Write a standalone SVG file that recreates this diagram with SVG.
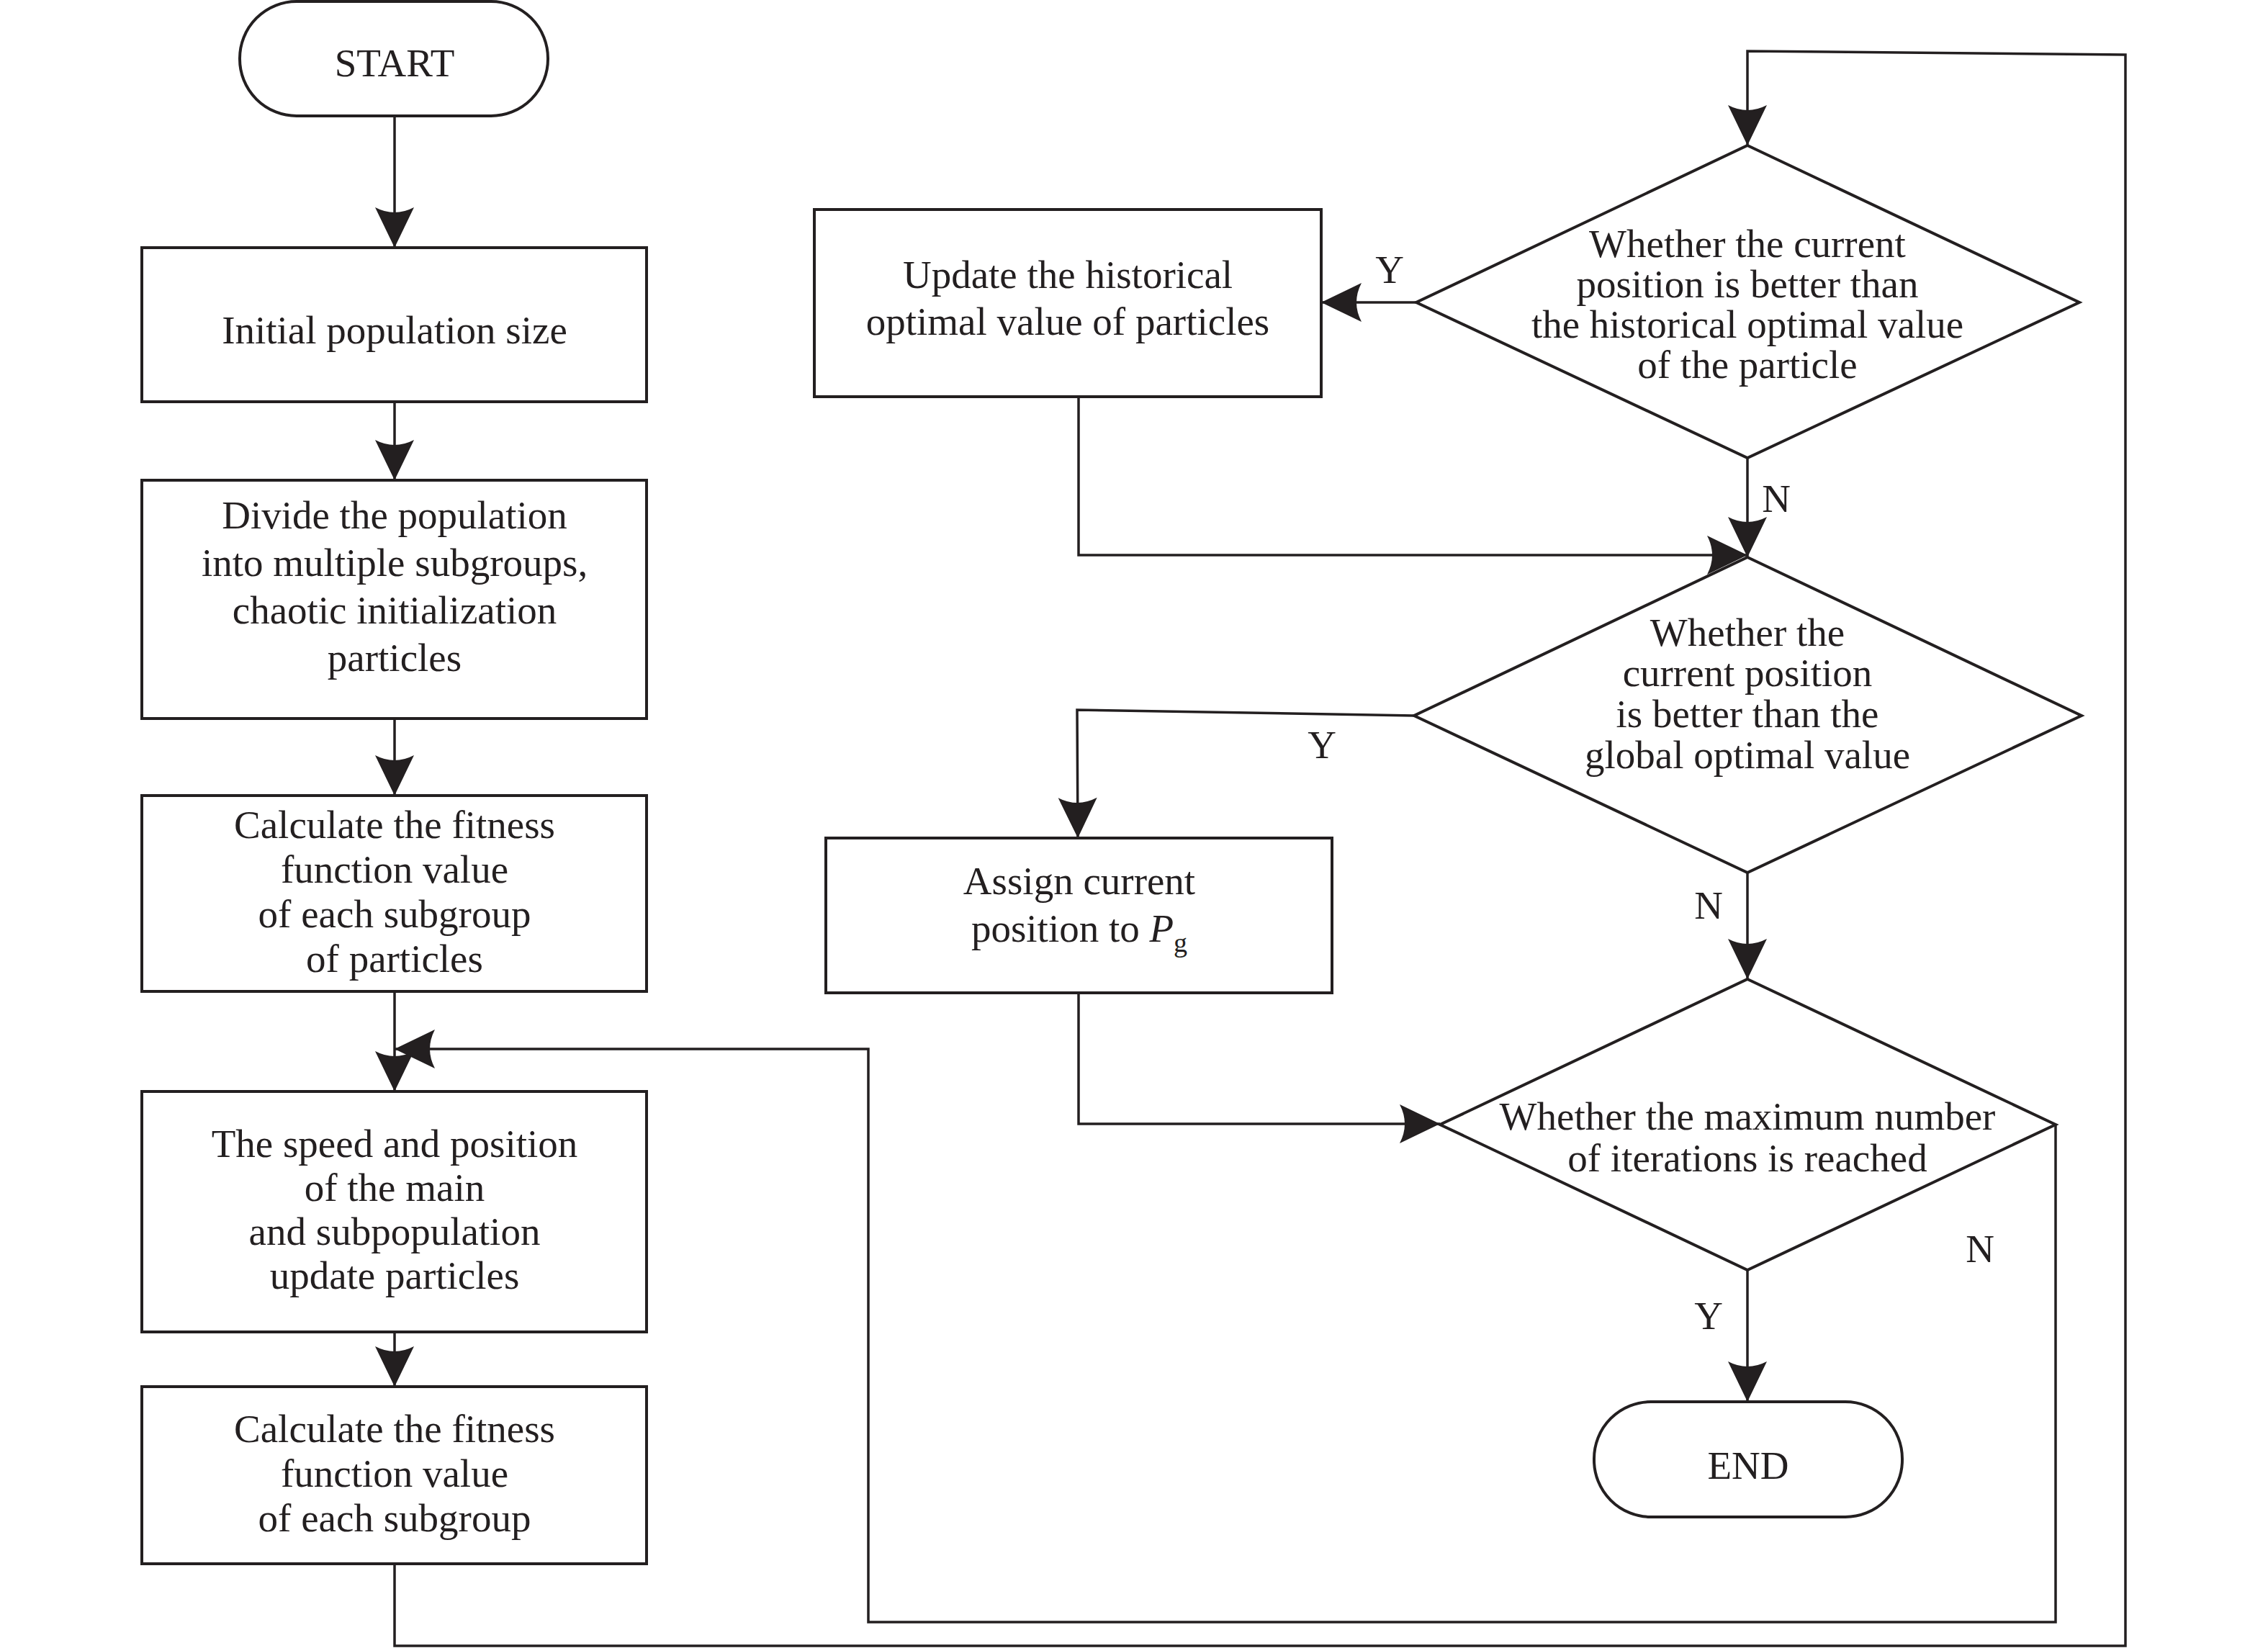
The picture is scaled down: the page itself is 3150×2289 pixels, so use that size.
<svg xmlns="http://www.w3.org/2000/svg" width="3150" height="2289" viewBox="0 0 3150 2289">
<style>
.s{fill:#fff;stroke:#231f20;stroke-width:4}
.c{fill:none;stroke:#231f20;stroke-width:3.5}
text{font-family:"Liberation Serif","Times New Roman",serif;font-size:55px;fill:#231f20;text-anchor:middle}
.sub{font-size:38px}
</style>
<defs>
<marker id="arr" markerUnits="userSpaceOnUse" markerWidth="64" markerHeight="64" viewBox="-60 -32 64 64" refX="0" refY="0" orient="auto">
<path d="M0,0 L-56,-27 Q-42,0 -56,27 Z" fill="#231f20"/>
</marker>
</defs>
<rect width="3150" height="2289" fill="#fff"/>
<g id="connectors">
<path class="c" d="M548,161 V344" marker-end="url(#arr)"/>
<path class="c" d="M548,558 V667" marker-end="url(#arr)"/>
<path class="c" d="M548,998 V1105" marker-end="url(#arr)"/>
<path class="c" d="M548,1377 V1516" marker-end="url(#arr)"/>
<path class="c" d="M548,1850 V1926" marker-end="url(#arr)"/>
<path class="c" d="M548,2172 V2286 H2952 V76 L2427,71 V202" marker-end="url(#arr)"/>
<path class="c" d="M1967,420 H1835" marker-end="url(#arr)"/>
<path class="c" d="M2427,636 V774" marker-end="url(#arr)"/>
<path class="c" d="M1498,551 V771 H2427" marker-end="url(#arr)"/>
<path class="c" d="M1964,994 L1496,986 L1497,1164" marker-end="url(#arr)"/>
<path class="c" d="M2427,1212 V1360" marker-end="url(#arr)"/>
<path class="c" d="M1498,1379 V1561 H2000" marker-end="url(#arr)"/>
<path class="c" d="M2427,1764 V1947" marker-end="url(#arr)"/>
<path class="c" d="M2855,1562 V2253 H1206 V1457 H548" marker-end="url(#arr)"/>
<text x="1930" y="393">Y</text>
<text x="2467" y="711">N</text>
<text x="1836" y="1053">Y</text>
<text x="2373" y="1276">N</text>
<text x="2373" y="1846">Y</text>
<text x="2750" y="1753">N</text>
</g>
<g id="start">
<rect class="s" x="333" y="2" width="428" height="159" rx="79" ry="79"/>
<text x="548" y="106">START</text>
</g>
<g id="box1">
<rect class="s" x="197" y="344" width="701" height="214"/>
<text x="548" y="477">Initial population size</text>
</g>
<g id="box2">
<rect class="s" x="197" y="667" width="701" height="331"/>
<text x="548" y="734">Divide the population</text>
<text x="548" y="800">into multiple subgroups,</text>
<text x="548" y="866">chaotic initialization</text>
<text x="548" y="932">particles</text>
</g>
<g id="box3">
<rect class="s" x="197" y="1105" width="701" height="272"/>
<text x="548" y="1164">Calculate the fitness</text>
<text x="548" y="1226">function value</text>
<text x="548" y="1288">of each subgroup</text>
<text x="548" y="1350">of particles</text>
</g>
<g id="box4">
<rect class="s" x="197" y="1516" width="701" height="334"/>
<text x="548" y="1607">The speed and position</text>
<text x="548" y="1668">of the main</text>
<text x="548" y="1729">and subpopulation</text>
<text x="548" y="1790">update particles</text>
</g>
<g id="box5">
<rect class="s" x="197" y="1926" width="701" height="246"/>
<text x="548" y="2003">Calculate the fitness</text>
<text x="548" y="2065">function value</text>
<text x="548" y="2127">of each subgroup</text>
</g>
<g id="update">
<rect class="s" x="1131" y="291" width="704" height="260"/>
<text x="1483" y="400">Update the historical</text>
<text x="1483" y="465">optimal value of particles</text>
</g>
<g id="diamond1">
<polygon class="s" points="2427,202 2888,420 2427,636 1967,420"/>
<text x="2427" y="357">Whether the current</text>
<text x="2427" y="413">position is better than</text>
<text x="2427" y="469">the historical optimal value</text>
<text x="2427" y="525">of the particle</text>
</g>
<g id="diamond2">
<polygon class="s" points="2427,774 2891,994 2427,1212 1964,994"/>
<text x="2427" y="897">Whether the</text>
<text x="2427" y="953">current position</text>
<text x="2427" y="1010">is better than the</text>
<text x="2427" y="1067">global optimal value</text>
</g>
<g id="assign">
<rect class="s" x="1147" y="1164" width="703" height="215"/>
<text x="1499" y="1242">Assign current</text>
<text x="1499" y="1308">position to <tspan font-style="italic">P</tspan><tspan class="sub" dy="14">g</tspan></text>
</g>
<g id="diamond3">
<polygon class="s" points="2427,1360 2855,1562 2427,1764 2000,1562"/>
<text x="2427" y="1569">Whether the maximum number</text>
<text x="2427" y="1627">of iterations is reached</text>
</g>
<g id="end">
<rect class="s" x="2214" y="1947" width="428" height="160" rx="79" ry="79"/>
<text x="2428" y="2054">END</text>
</g>
</svg>
